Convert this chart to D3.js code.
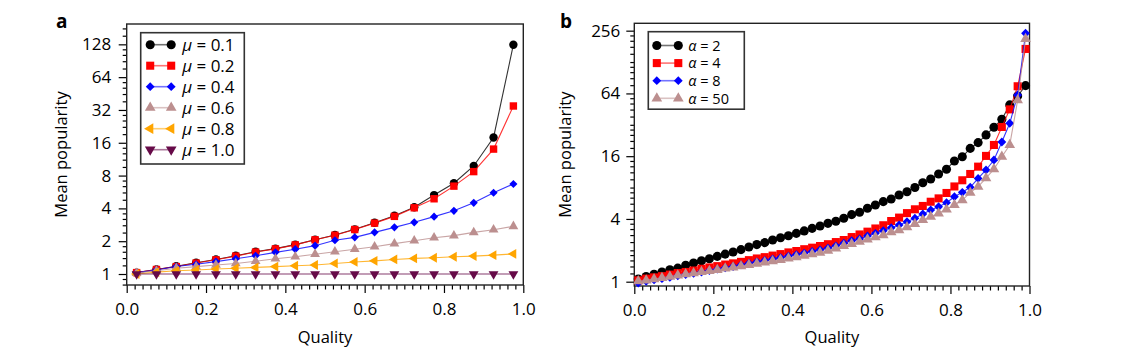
<!DOCTYPE html>
<html>
<head>
<meta charset="utf-8">
<script src="https://cdn.jsdelivr.net/npm/d3@7"></script>
<style>
  body { margin: 0; background: #fff; }
  svg text { font-family: 'Open Sans', sans-serif; fill: #000; }
</style>
</head>
<body>
<svg id="chart" width="1128" height="362"></svg>
<script>
// ---- data, panel a (mean popularity vs quality for several mu) ----
const qualityA = [0.025, 0.075, 0.125, 0.175, 0.225, 0.275, 0.325, 0.375, 0.425, 0.475,
                  0.525, 0.575, 0.625, 0.675, 0.725, 0.775, 0.825, 0.875, 0.925, 0.975];
const mu01 = [1.03, 1.10, 1.18, 1.27, 1.36, 1.47, 1.60, 1.71, 1.86, 2.06, 2.28, 2.57, 2.95, 3.42, 4.1, 5.3, 6.8, 9.8, 17.9, 127];
const mu02 = [1.03, 1.10, 1.17, 1.26, 1.35, 1.46, 1.59, 1.70, 1.85, 2.06, 2.27, 2.56, 2.93, 3.38, 4.05, 4.9, 6.4, 8.7, 14, 34.8];
const mu04 = [1.03, 1.09, 1.17, 1.23, 1.30, 1.38, 1.47, 1.58, 1.69, 1.82, 2.04, 2.17, 2.41, 2.68, 2.98, 3.36, 3.8, 4.5, 5.57, 6.7];
const mu06 = [1.02, 1.07, 1.13, 1.17, 1.21, 1.25, 1.31, 1.38, 1.44, 1.52, 1.60, 1.69, 1.78, 1.90, 2.02, 2.15, 2.25, 2.41, 2.55, 2.74];
const mu08 = [1.0, 1.04, 1.07, 1.09, 1.11, 1.13, 1.15, 1.17, 1.19, 1.21, 1.25, 1.29, 1.32, 1.36, 1.39, 1.41, 1.44, 1.46, 1.49, 1.53];
const mu10 = [1, 1, 1, 1, 1, 1, 1, 1, 1, 1, 1, 1, 1, 1, 1, 1, 1, 1, 1, 1];
const muLabels = ['0.1', '0.2', '0.4', '0.6', '0.8', '1.0'];

// ---- data, panel b (mean popularity vs quality for several alpha) ----
const qualityB = [0.01, 0.03, 0.05, 0.07, 0.09, 0.11, 0.13, 0.15, 0.17, 0.19,
                  0.21, 0.23, 0.25, 0.27, 0.29, 0.31, 0.33, 0.35, 0.37, 0.39,
                  0.41, 0.43, 0.45, 0.47, 0.49, 0.51, 0.53, 0.55, 0.57, 0.59,
                  0.61, 0.63, 0.65, 0.67, 0.69, 0.71, 0.73, 0.75, 0.77, 0.79,
                  0.81, 0.83, 0.85, 0.87, 0.89, 0.91, 0.93, 0.95, 0.97, 0.99];
const alpha2 = [1.06, 1.12, 1.18, 1.24, 1.30, 1.35, 1.44, 1.51, 1.59, 1.66,
                1.75, 1.84, 1.93, 2.03, 2.15, 2.27, 2.37, 2.51, 2.64, 2.76,
                2.91, 3.07, 3.25, 3.42, 3.63, 3.80, 4.06, 4.40, 4.63, 5.06,
                5.44, 5.86, 6.22, 6.78, 7.3, 8.0, 8.9, 9.67, 10.8, 12.0,
                14.4, 15.8, 19.0, 21.6, 25.6, 30.3, 36.2, 49.7, 60.5, 76];
const alpha4 = [1.03, 1.07, 1.10, 1.13, 1.17, 1.21, 1.24, 1.28, 1.33, 1.37,
                1.41, 1.46, 1.50, 1.55, 1.61, 1.67, 1.72, 1.78, 1.84, 1.91,
                1.97, 2.05, 2.12, 2.20, 2.29, 2.40, 2.51, 2.68, 2.84, 3.02,
                3.24, 3.48, 3.82, 4.12, 4.55, 4.95, 5.33, 5.85, 6.3, 7.1,
                8.2, 9.4, 10.8, 12.7, 16.1, 20.5, 30.5, 45, 75, 171];
const alpha8 = [0.97, 1.01, 1.04, 1.07, 1.10, 1.14, 1.17, 1.20, 1.24, 1.28,
                1.32, 1.36, 1.40, 1.45, 1.50, 1.55, 1.60, 1.65, 1.70, 1.76,
                1.82, 1.88, 1.95, 2.02, 2.10, 2.21, 2.34, 2.47, 2.57, 2.75,
                2.91, 3.09, 3.30, 3.50, 3.76, 4.06, 4.46, 4.87, 5.24, 5.73,
                6.54, 7.2, 8.05, 9.8, 11.8, 14.7, 21.9, 33.1, 61.8, 242];
const alpha50 = [1.01, 1.03, 1.06, 1.09, 1.12, 1.15, 1.18, 1.21, 1.24, 1.27,
                 1.30, 1.34, 1.37, 1.41, 1.45, 1.49, 1.53, 1.57, 1.62, 1.67,
                 1.72, 1.78, 1.84, 1.90, 1.99, 2.09, 2.20, 2.30, 2.42, 2.55,
                 2.67, 2.80, 2.98, 3.13, 3.33, 3.58, 3.91, 4.2, 4.53, 4.95,
                 5.44, 6.07, 7.15, 8.16, 9.84, 12.0, 15.8, 20.5, 55, 213];
const alphaLabels = ['2', '4', '8', '50'];

const xTicks = [0, 0.2, 0.4, 0.6, 0.8, 1.0];
const yTicksA = [1, 2, 4, 8, 16, 32, 64, 128];
const yTicksB = [1, 4, 16, 64, 256];

const svg = d3.select('#chart');

// marker styles shared by both panels
const styles = [
  {color: '#000000', shape: d3.symbolCircle, size: 50, rot: 0},
  {color: '#ff0000', shape: d3.symbolSquare, size: 50, rot: 0},
  {color: '#0000ff', shape: d3.symbolSquare, size: 30, rot: 45},
  {color: '#bc8f8f', shape: d3.symbolTriangle, size: 38, rot: 0},
  {color: '#ffa500', shape: d3.symbolTriangle, size: 38, rot: -90},
  {color: '#660a48', shape: d3.symbolTriangle, size: 38, rot: 180}
];

// minor ticks for log axes: 2^n * 1.2, 1.4, 1.6, 1.8 (and the odd powers when majors skip them)
function minorTicks(lo, hi) {
  var out = [];
  for (var n = -1; n <= 9; n++) {
    var b = Math.pow(2, n);
    [1.2, 1.4, 1.6, 1.8].forEach(f => out.push(b * f));
    out.push(b);
  }
  return out.filter(v => v > lo && v < hi);
}

function drawPanel(p) {
  const g = svg.append('g');
  const x = d3.scaleLinear().domain([0, 1]).range([p.left, p.right]);
  const y = d3.scaleLog().base(2).domain(p.ydomain).range([p.bottom, p.top]);

  // minor ticks
  const xMinor = d3.range(0, 1.0001, 0.02).filter(v => Math.abs(v * 5 - Math.round(v * 5)) > 1e-6);
  g.append('g')
    .attr('transform', 'translate(0,' + p.bottom + ')')
    .call(d3.axisBottom(x).tickValues(xMinor).tickSize(4.5).tickFormat(''))
    .call(a => a.select('.domain').remove());
  g.append('g')
    .attr('transform', 'translate(' + p.left + ',0)')
    .call(d3.axisLeft(y).tickValues(minorTicks(p.ydomain[0], p.ydomain[1]).filter(v => p.yTicks.indexOf(v) === -1)).tickSize(4).tickFormat(''))
    .call(a => a.select('.domain').remove());

  // major ticks
  const xa = g.append('g')
    .attr('transform', 'translate(0,' + p.bottom + ')')
    .call(d3.axisBottom(x).tickValues(xTicks).tickSize(8).tickPadding(10).tickFormat(d3.format('.1f')));
  xa.select('.domain').remove();
  xa.selectAll('text').style('font-size', '17px');

  const ya = g.append('g')
    .attr('transform', 'translate(' + p.left + ',0)')
    .call(d3.axisLeft(y).tickValues(p.yTicks).tickSize(8).tickPadding(p.ypad).tickFormat(d3.format('d')));
  ya.select('.domain').remove();
  ya.selectAll('text').style('font-size', '17px');
  g.selectAll('.tick line').attr('stroke', '#000').attr('stroke-width', 1.2);

  // frame
  g.append('rect')
    .attr('x', p.left).attr('y', p.top)
    .attr('width', p.right - p.left).attr('height', p.bottom - p.top)
    .attr('fill', 'none').attr('stroke', '#222').attr('stroke-width', 1.4);

  // series
  p.series.forEach((vals, i) => {
    const st = p.styles[i];
    const pts = vals.map((v, j) => [p.qual[j], v]);
    g.append('path')
      .datum(pts)
      .attr('fill', 'none')
      .attr('stroke', st.color)
      .attr('stroke-opacity', 0.8)
      .attr('stroke-width', 1.1)
      .attr('d', d3.line().x(d => x(d[0])).y(d => y(d[1])));
    g.selectAll(null)
      .data(pts)
      .enter()
      .append('path')
      .attr('d', d3.symbol().type(st.shape).size(st.size * p.markScale))
      .attr('transform', d => 'translate(' + x(d[0]) + ',' + y(d[1]) + ') rotate(' + st.rot + ')')
      .attr('fill', st.color);
  });

  // legend
  const lg = g.append('g');
  lg.append('rect')
    .attr('x', p.legend.x).attr('y', p.legend.y)
    .attr('width', p.legend.w).attr('height', p.legend.h)
    .attr('fill', '#fff').attr('stroke', '#333').attr('stroke-width', 1.6);
  p.labels.forEach((lab, i) => {
    const st = p.styles[i];
    const ry = p.legend.row0 + i * p.legend.step;
    const x0 = p.legend.x + p.legend.s0, x1 = p.legend.x + p.legend.s1;
    lg.append('line')
      .attr('x1', x0).attr('x2', x1).attr('y1', ry).attr('y2', ry)
      .attr('stroke', st.color).attr('stroke-opacity', 0.55).attr('stroke-width', 1.6);
    [x0, x1].forEach(xx => {
      lg.append('path')
        .attr('d', d3.symbol().type(st.shape).size(st.size * 1.3))
        .attr('transform', 'translate(' + xx + ',' + ry + ') rotate(' + st.rot + ')')
        .attr('fill', st.color);
    });
    const t = lg.append('text')
      .attr('x', p.legend.x + p.legend.tx).attr('y', ry + p.legend.fs * 0.36)
      .style('font-size', p.legend.fs + 'px');
    t.append('tspan').style('font-style', 'italic').text(p.symbolName);
    t.append('tspan').text(' = ' + lab);
  });

  // axis titles and panel letter
  g.append('text')
    .attr('x', (p.left + p.right) / 2).attr('y', 343)
    .attr('text-anchor', 'middle').style('font-size', '16.5px')
    .text('Quality');
  g.append('text')
    .attr('transform', 'translate(' + p.titleX + ',' + ((p.top + p.bottom) / 2) + ') rotate(-90)')
    .attr('text-anchor', 'middle').style('font-size', '16.5px')
    .text('Mean popularity');
  g.append('text')
    .attr('x', p.letterX).attr('y', 28)
    .style('font-size', '19px').style('font-weight', 'bold')
    .text(p.letter);
}

drawPanel({
  left: 126.7, right: 523.3, top: 24, bottom: 285,
  ydomain: [Math.pow(2, -0.335), Math.pow(2, 7.62)],
  yTicks: yTicksA, ypad: 7.5,
  qual: qualityA,
  series: [mu01, mu02, mu04, mu06, mu08, mu10],
  styles: styles,
  markScale: 1.1,
  labels: muLabels, symbolName: 'μ',
  legend: {x: 140.7, y: 32.7, w: 103.6, h: 131.3, row0: 44.7, step: 21, s0: 9.5, s1: 30.5, tx: 41.5, fs: 17},
  titleX: 67, letterX: 56, letter: 'a'
});

drawPanel({
  left: 634.3, right: 1029.5, top: 23.3, bottom: 286,
  ydomain: [Math.pow(2, -0.137), Math.pow(2, 8.235)],
  yTicks: yTicksB, ypad: 6,
  qual: qualityB,
  series: [alpha2, alpha4, alpha8, alpha50],
  styles: styles.slice(0, 4),
  markScale: 1.3,
  labels: alphaLabels, symbolName: 'α',
  legend: {x: 648.3, y: 31.7, w: 96, h: 77.5, row0: 45.5, step: 17.6, s0: 8.5, s1: 30, tx: 40, fs: 14.5},
  titleX: 571, letterX: 560, letter: 'b'
});
</script>
</body>
</html>
